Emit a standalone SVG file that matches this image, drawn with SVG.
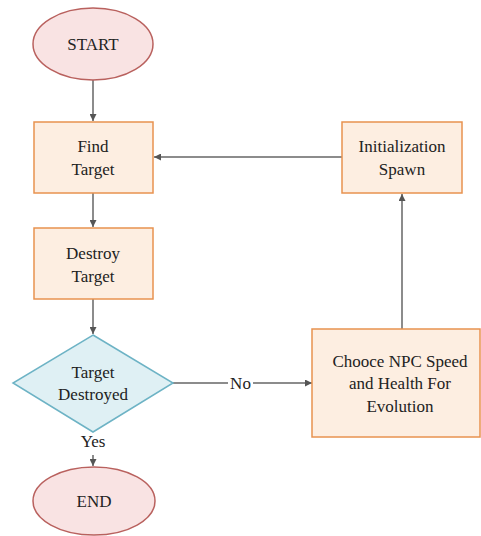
<svg xmlns="http://www.w3.org/2000/svg" width="481" height="536" viewBox="0 0 481 536">
<style>
.term{fill:#f9e3e3;stroke:#b9615e;stroke-width:1.5}
.proc{fill:#fdeee1;stroke:#e8924f;stroke-width:1.5}
.dec{fill:#dff0f4;stroke:#6db3c5;stroke-width:1.5}
.conn{fill:none;stroke:#666;stroke-width:1.5}
.t{font-size:17px;fill:#222;text-anchor:middle}
</style>
<defs>
<marker id="ah" viewBox="0 0 10 10" refX="10" refY="5" markerWidth="7" markerHeight="7" markerUnits="userSpaceOnUse" orient="auto">
<path d="M0,0 L10,5 L0,10 z" fill="#555"/>
</marker>
</defs>
<rect width="481" height="536" fill="#fff"/>
<g font-family="Tinos, 'Liberation Serif', 'DejaVu Serif', 'Times New Roman', serif">
<g id="connectors">
<line class="conn" x1="93" y1="80" x2="93" y2="121" marker-end="url(#ah)"/>
<line class="conn" x1="93" y1="193" x2="93" y2="227" marker-end="url(#ah)"/>
<line class="conn" x1="93" y1="299" x2="93" y2="334" marker-end="url(#ah)"/>
<line class="conn" x1="93" y1="455" x2="93" y2="466" marker-end="url(#ah)"/>
<line class="conn" x1="173" y1="383" x2="228" y2="383"/>
<line class="conn" x1="253" y1="383" x2="312" y2="383" marker-end="url(#ah)"/>
<line class="conn" x1="402" y1="329" x2="402" y2="194" marker-end="url(#ah)"/>
<line class="conn" x1="342" y1="157" x2="154" y2="157" marker-end="url(#ah)"/>
<text class="t" x="240.5" y="389">No</text>
<text class="t" x="93" y="447">Yes</text>
</g>
<g id="start">
<ellipse class="term" cx="93" cy="44" rx="60" ry="36"/>
<text class="t" x="93" y="50">START</text>
</g>
<g id="find-target">
<rect class="proc" x="34" y="122" width="119" height="71"/>
<text class="t" x="93" y="152">Find</text>
<text class="t" x="93" y="175">Target</text>
</g>
<g id="destroy-target">
<rect class="proc" x="34" y="228" width="119" height="71"/>
<text class="t" x="93" y="259">Destroy</text>
<text class="t" x="93" y="282">Target</text>
</g>
<g id="target-destroyed">
<polygon class="dec" points="93,335 173,383 93,432 13,383"/>
<text class="t" x="93" y="378">Target</text>
<text class="t" x="93" y="400">Destroyed</text>
</g>
<g id="end">
<ellipse class="term" cx="94" cy="501" rx="61" ry="34"/>
<text class="t" x="94" y="507">END</text>
</g>
<g id="choose-npc">
<rect class="proc" x="312" y="329" width="168" height="108"/>
<text class="t" x="400" y="367">Chooce NPC Speed</text>
<text class="t" x="400" y="389">and Health For</text>
<text class="t" x="400" y="412">Evolution</text>
</g>
<g id="init-spawn">
<rect class="proc" x="342" y="122" width="120" height="71"/>
<text class="t" x="402" y="152">Initialization</text>
<text class="t" x="402" y="175">Spawn</text>
</g>
</g>
</svg>
